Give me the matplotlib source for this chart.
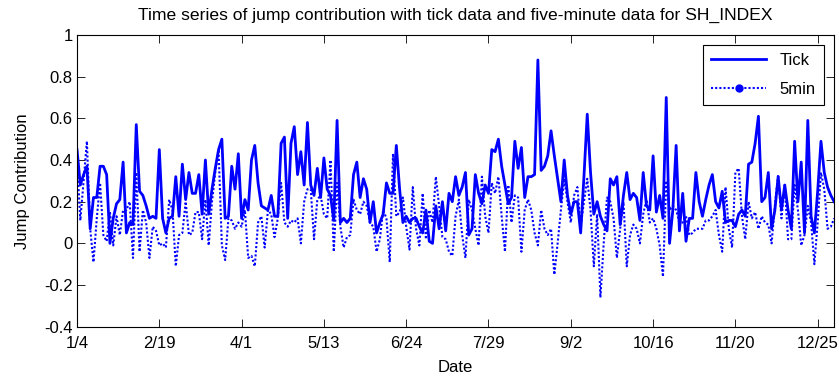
import numpy as np
import matplotlib
matplotlib.use("Agg")
import matplotlib.pyplot as plt
from matplotlib.lines import Line2D

# MATLAB-ish look
plt.rcParams['font.family'] = ['Liberation Sans', 'DejaVu Sans']
plt.rcParams['font.size'] = 12

# jump contribution, tick data (solid line)
tick_jc = [
    0.45, 0.28, 0.33, 0.37, 0.07, 0.22, 0.22, 0.37, 0.37, 0.33, 0.00, 0.12, 0.19, 0.21, 0.39, 0.05, 0.10, 0.09, 0.57, 0.25, 0.23, 0.18, 0.12,
    0.13, 0.12, 0.45, 0.12, 0.05, 0.12, 0.13, 0.32, 0.13, 0.38, 0.21, 0.34, 0.24, 0.24, 0.33, 0.14, 0.40, 0.14, 0.26, 0.36, 0.45, 0.50, 0.12, 0.13, 0.37, 0.26, 0.43, 0.12, 0.21, 0.16, 0.40,
    0.47, 0.29, 0.18, 0.17, 0.16, 0.23, 0.13, 0.13, 0.48, 0.51, 0.12, 0.48, 0.56, 0.33, 0.44, 0.28, 0.58, 0.28, 0.23, 0.36, 0.22, 0.41, 0.26, 0.23, 0.11, 0.59, 0.10, 0.12, 0.10, 0.12,
    0.33, 0.39, 0.22, 0.31, 0.26, 0.10, 0.20, 0.05, 0.10, 0.14, 0.29, 0.24, 0.24, 0.47, 0.26, 0.10, 0.13, 0.10, 0.12, 0.12, 0.08, 0.05, 0.16, 0.01, 0.00, 0.18, 0.07, 0.20, 0.06, 0.24,
    0.20, 0.32, 0.23, 0.27, 0.34, 0.04, 0.07, 0.33, 0.24, 0.19, 0.28, 0.24, 0.45, 0.44, 0.50, 0.37, 0.28, 0.19, 0.22, 0.49, 0.36, 0.46, 0.22, 0.32, 0.32, 0.33, 0.88, 0.35, 0.37, 0.42,
    0.54, 0.42, 0.31, 0.20, 0.40, 0.23, 0.14, 0.20, 0.20, 0.05, 0.32, 0.62, 0.34, 0.14, 0.20, 0.13, 0.09, 0.06, 0.31, 0.28, 0.32, 0.09, 0.23, 0.34, 0.21, 0.24, 0.22, 0.11, 0.34, 0.18, 0.16,
    0.42, 0.15, 0.23, 0.12, 0.70, 0.00, 0.16, 0.47, 0.06, 0.24, 0.01, 0.12, 0.12, 0.34, 0.20, 0.13, 0.21, 0.28, 0.33, 0.20, 0.17, 0.25, 0.10, 0.11, 0.11,
    0.08, 0.14, 0.16, 0.13, 0.38, 0.39, 0.48, 0.61, 0.20, 0.22, 0.34, 0.07, 0.16, 0.32, 0.16, 0.28, 0.16, 0.07, 0.49, 0.20, 0.39, 0.05, 0.59, 0.13, 0.05, 0.25, 0.49, 0.34, 0.27, 0.23, 0.20,
]

# jump contribution, five-minute data (dotted line)
min5_jc = [
    0.40, 0.11, 0.30, 0.49, 0.07, -0.09, 0.12, 0.29, 0.04, 0.01, 0.15, -0.01, 0.13, 0.04, 0.16, 0.16, 0.20, -0.07, 0.34, -0.04, 0.16, 0.10, -0.07,
    0.08, 0.06, -0.01, 0.00, -0.02, 0.21, 0.16, -0.11, 0.04, 0.05, 0.20, 0.04, 0.05, 0.15, 0.15, 0.02, 0.21, -0.01, 0.20, 0.34, 0.45, -0.01, -0.08, 0.12, 0.11, 0.07, 0.10, 0.08, 0.16, -0.07,
    -0.06, -0.11, 0.10, 0.13, -0.02, 0.16, 0.14, 0.03, 0.12, 0.29, 0.10, 0.08, 0.11, 0.10, 0.12, 0.00, 0.20, 0.26, 0.26, 0.02, 0.21, 0.23, 0.14, 0.12, 0.40, -0.04, 0.29, 0.08, -0.02, 0.03, 0.04,
    0.21, 0.16, 0.14, 0.20, 0.18, 0.10, 0.08, -0.04, 0.02, 0.16, 0.12, -0.09, 0.43, 0.13, 0.15, 0.22, 0.08, -0.03, 0.27, 0.07, -0.01, 0.24, 0.02, 0.16, 0.10, 0.32, 0.18, 0.03, 0.02, -0.04,
    -0.06, 0.13, 0.21, 0.04, -0.07, 0.21, 0.16, 0.07, -0.01, 0.32, 0.13, 0.05, 0.29, 0.24, 0.32, 0.13, -0.04, 0.28, 0.10, 0.23, 0.22, -0.04, 0.16, 0.21, 0.16, 0.05, -0.01, 0.16, 0.07, 0.04,
    0.07, -0.15, 0.00, 0.16, 0.31, 0.20, 0.10, 0.23, 0.27, 0.08, 0.20, 0.31, 0.16, -0.11, 0.14, -0.26, 0.00, 0.22, 0.20, 0.12, -0.07, 0.07, 0.20, -0.11, 0.04, 0.09, 0.07, 0.00, 0.14, 0.21, 0.10,
    0.12, 0.07, -0.01, -0.16, 0.30, 0.16, 0.18, 0.16, 0.10, 0.10, 0.13, 0.04, 0.05, 0.07, 0.07, 0.07, 0.11, 0.11, 0.13, 0.16, 0.04, -0.04, 0.27, 0.07, -0.02,
    0.34, 0.36, 0.13, 0.02, 0.20, 0.12, 0.15, 0.07, 0.13, 0.10, 0.09, 0.00, 0.18, 0.33, 0.12, 0.28, 0.02, 0.02, 0.28, 0.16, -0.01, 0.04, 0.18, 0.10, -0.10, 0.10, 0.34, 0.26, 0.07, 0.08, 0.12,
]

date_labels = ['1/4', '2/19', '4/1', '5/13', '6/24', '7/29', '9/2', '10/16', '11/20', '12/25']
tick_step = 25  # trading days between date labels

days = np.arange(1, len(tick_jc) + 1)

fig = plt.figure(figsize=(8.39, 3.77), dpi=100)
ax = fig.add_axes([0.0918, 0.1334, 0.9024, 0.7738])

dots = (0, (1, 1))
ax.plot(days, tick_jc, color='blue', linewidth=2.0)
ax.plot(days, min5_jc, color='blue', linewidth=1.5, linestyle=dots)

ax.set_xlim(1, len(tick_jc))
ax.set_ylim(-0.4, 1)
ax.set_yticks(np.arange(-0.4, 1.01, 0.2))
ax.set_yticklabels(['-0.4', '-0.2', '0', '0.2', '0.4', '0.6', '0.8', '1'])
ax.set_xticks(1 + tick_step * np.arange(len(date_labels)))
ax.set_xticklabels(date_labels)

ax.tick_params(direction='in', top=True, right=True, length=5.5, width=0.6)
ax.tick_params(axis='x', pad=7)
ax.tick_params(axis='y', pad=3)
for s in ax.spines.values():
    s.set_linewidth(0.8)

ax.set_title('Time series of jump contribution with tick data and five-minute data for SH_INDEX',
             fontsize=12.6, pad=11)
ax.set_xlabel('Date', labelpad=6)
ax.set_ylabel('Jump Contribution', labelpad=10)

# legend: the 5min entry shows a dot marker like the MATLAB one
handles = [Line2D([], [], color='blue', linewidth=2.0),
           Line2D([], [], color='blue', linewidth=1.5, linestyle=dots,
                  marker='.', markersize=10)]
leg = ax.legend(handles, ['Tick', '5min'], loc='upper right', fancybox=False,
                edgecolor='black', framealpha=1, handlelength=3.3,
                borderaxespad=0.6, borderpad=0.5, labelspacing=0.8, numpoints=1)
leg.get_frame().set_linewidth(0.8)

fig.savefig('out.png', dpi=100)
